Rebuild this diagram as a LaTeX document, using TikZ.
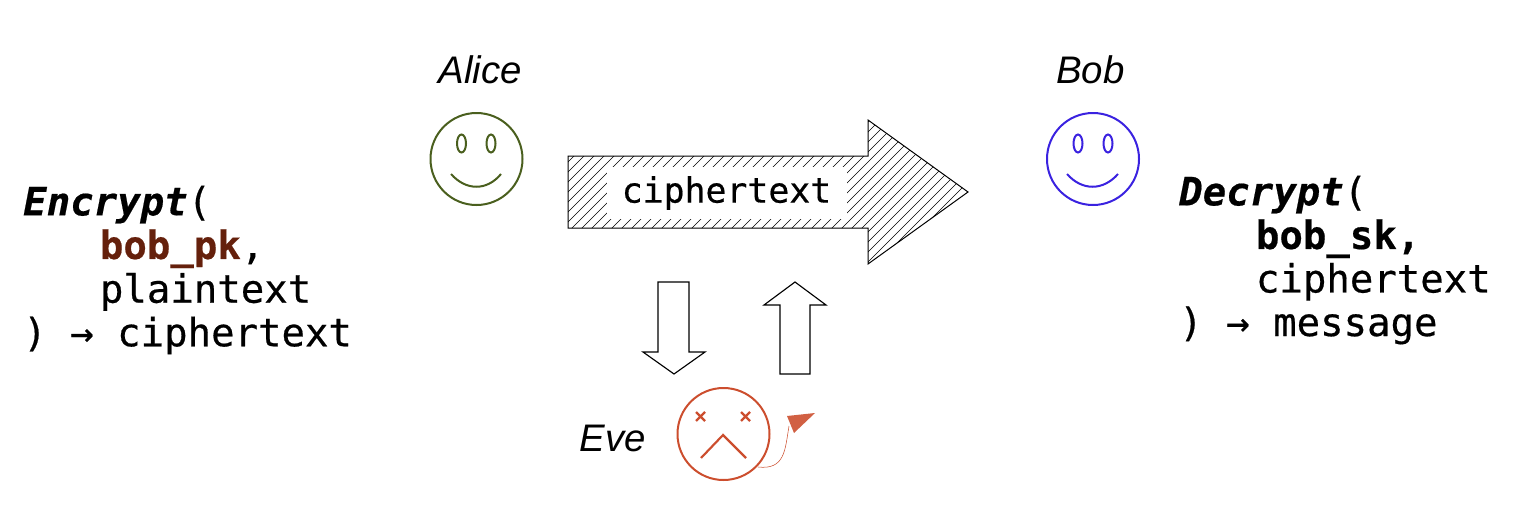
\documentclass[tikz,border=0pt]{standalone}
\usepackage{fontspec}
\setmainfont{Liberation Sans}
\newfontfamily\codefont[FakeBold=0.5]{DejaVu Sans Mono}[BoldFeatures={FakeBold=0.5}]
\definecolor{alicegreen}{HTML}{4A5F1E}
\definecolor{bobblue}{HTML}{3A22E0}
\definecolor{everust}{HTML}{CC4E2E}
\definecolor{keybrown}{HTML}{65200C}
\tikzset{
  face/.style={circle,draw,line width=1.5pt,minimum size=69pt,inner sep=0pt},
  feature/.style={line width=1.5pt},
  who/.style={font=\fontsize{28.8}{30}\selectfont\itshape,inner sep=0pt},
  codeblock/.style={font=\fontsize{29.25}{31.5}\selectfont\codefont,inner sep=0pt,align=left,anchor=north west},
  blockarrow/.style={draw=black,line width=0.85pt,fill=white},
}
\newcommand{\codeline}[1]{\strut #1}
\newcommand{\codeindent}{\hspace{57.5pt}}
\begin{document}
\begin{tikzpicture}[x=0.75pt,y=-0.75pt]
\useasboundingbox (0,0) rectangle (1520,525);
% main hatched arrow
\begin{scope}
\clip (568,156) -- (868,156) -- (868,120) -- (968,192) -- (868,264) -- (868,228) -- (568,228) -- cycle;
\foreach \k in {0,...,70}{
  \draw[line width=0.33pt,black] ({560+\k*10-150},270) -- ({560+\k*10},120);
}
\end{scope}
\draw[line width=0.75pt] (568,156) -- (868,156) -- (868,120) -- (968,192) -- (868,264) -- (868,228) -- (568,228) -- cycle;
\node[fill=white,minimum width=180pt,minimum height=39pt,inner sep=0pt,font=\fontsize{26.1}{28}\selectfont\codefont] (ct) at (726.5,193) {ciphertext};
% small arrows
\draw[blockarrow] (658,282) -- (689,282) -- (689,352) -- (705,352) -- (674,374) -- (643,352) -- (658,352) -- cycle;
\draw[blockarrow] (795,282) -- (826,305) -- (810,305) -- (810,374) -- (780,374) -- (780,305) -- (764,305) -- cycle;
% Alice
\node[who] (alice) at (480,70) {Alice};
\node[face,draw=alicegreen] (aface) at (476.5,159) {};
\draw[alicegreen,feature] (461.5,143.5) ellipse (4.5 and 9);
\draw[alicegreen,feature] (491,143.5) ellipse (4.5 and 9);
\draw[alicegreen,feature] (451,174) .. controls (466,191) and (487,191) .. (501,174);
% Bob
\node[who] (bob) at (1090.5,70) {Bob};
\node[face,draw=bobblue] (bface) at (1093,159) {};
\draw[bobblue,feature] (1078,143.5) ellipse (4.5 and 9);
\draw[bobblue,feature] (1108,143.5) ellipse (4.5 and 9);
\draw[bobblue,feature] (1067,174) .. controls (1082,191) and (1103,191) .. (1118,174);
% Eve
\node[who] (eve) at (612.5,438) {Eve};
\node[face,draw=everust] (eface) at (723.5,434) {};
\draw[everust,line width=1.7pt] (696,412) -- (705,421) (705,412) -- (696,421);
\draw[everust,line width=1.7pt] (741,412) -- (750,421) (750,412) -- (741,421);
\draw[everust,line width=1.6pt] (701,458) -- (723,435) -- (746,458);
\coordinate (tail) at (758,467);
\draw[everust,line width=0.4pt] (tail) .. controls (785,470) and (785,450) .. (789,426);
\fill[everust!90!white] (787,416) -- (815,413) -- (794,433) -- cycle;
% code
\node[codeblock] (enc) at (23,185.5) {\codeline{{\bfseries\itshape Encrypt}(}\\
\codeline{\codeindent{\bfseries\color{keybrown}bob\_pk},}\\
\codeline{\codeindent plaintext}\\
\codeline{) → ciphertext}};
\node[codeblock] (dec) at (1179,175.5) {\codeline{{\bfseries\itshape Decrypt}(}\\
\codeline{\codeindent{\bfseries bob\_sk,}}\\
\codeline{\codeindent ciphertext}\\
\codeline{) → message}};
\end{tikzpicture}
\end{document}
